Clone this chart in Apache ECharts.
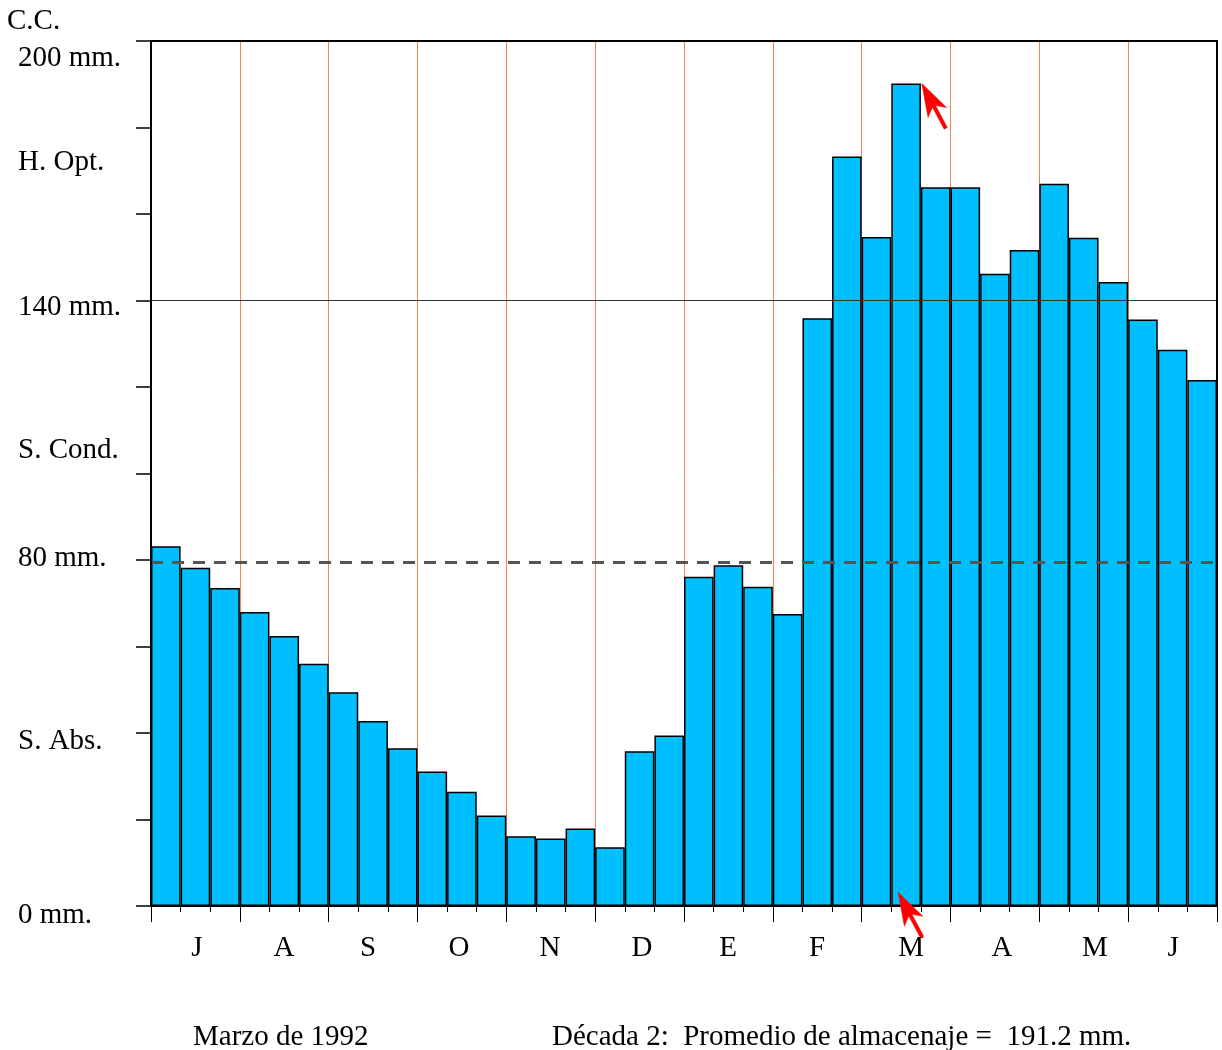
<!DOCTYPE html>
<html>
<head>
<meta charset="utf-8">
<script src="https://cdn.jsdelivr.net/npm/echarts@6/dist/echarts.min.js"></script>
<style>
html,body{margin:0;padding:0;background:#fff;}
#chart{width:1222px;height:1050px;}
</style>
</head>
<body>
<div id="chart"></div>
<script>
// ---- data ----
const monthLabels = ['J','A','S','O','N','D','E','F','M','A','M','J'];
const monthLabelPos = [1.55, 4.49, 7.33, 10.40, 13.47, 16.58, 19.49, 22.49, 25.67, 28.74, 31.88, 34.52]; // in decade units
const monthNames = ['Jul','Ago','Sep','Oct','Nov','Dic','Ene','Feb','Mar','Abr','May','Jun'];
const decadeLabels = [];
monthNames.forEach(function (m) { decadeLabels.push(m + ' 1', m + ' 2', m + ' 3'); });
const storageMm = [
  83.2, 78.2, 73.5, 68.0, 62.4, 56.0, 49.4, 42.8, 36.5, 31.1, 26.4, 20.9,
  16.1, 15.6, 17.9, 13.6, 35.8, 39.4, 76.1, 78.8, 73.8, 67.5, 135.9, 173.3,
  154.7, 190.2, 166.2, 166.2, 146.2, 151.7, 167.0, 154.5, 144.3, 135.6, 128.6, 121.6
];
const yLabelTexts = ['200 mm.', 'H. Opt.', '140 mm.', 'S. Cond.', '80 mm.', 'S. Abs.', '0 mm.'];
const yLabelValues = [196.4, 172.3, 138.9, 105.7, 80.9, 38.6, -1.6];
const optimumLine = 140;
const conditionLine = 79.4;
const arrowMarks = [[25, 190.2, 0.53], [25, 3.2, -0.27]]; // [decade index, value, offset in bar widths]
const captionLeft = 'Marzo de 1992';
const captionRight = 'Década 2:  Promedio de almacenaje =  191.2 mm.';

// ---- chart ----
const FONT = '"Liberation Serif", "Times New Roman", serif';
const FSIZE = 29;
const TEXT_DY = 2;
const chart = echarts.init(document.getElementById('chart'));

const arrowShape = [[0,0],[33,-10.5],[26,-1.8],[51,-1.8],[51,1.8],[26,1.8],[33,10.5]];
const arrowDir = (function(){ const dx = 24, dy = 45, l = Math.sqrt(dx*dx+dy*dy); return [dx/l, dy/l]; })();

chart.setOption({
  animation: false,
  backgroundColor: '#fff',
  grid: { left: 151, right: 5, top: 41, bottom: 144, show: false },
  xAxis: [
    {
      type: 'category', data: decadeLabels, position: 'bottom', boundaryGap: true,
      axisLine: { show: true, lineStyle: { color: '#000', width: 2 } },
      axisTick: { show: true, interval: 0, length: 6, lineStyle: { color: '#000', width: 1 } },
      axisLabel: { show: false }, splitLine: { show: false }, z: 5
    },
    {
      type: 'category', data: monthLabels, position: 'bottom', boundaryGap: true,
      axisLine: { show: false },
      axisTick: { show: true, interval: 0, length: 16, lineStyle: { color: '#000', width: 1 } },
      axisLabel: { show: false },
      splitLine: { show: true, interval: 0, showMinLine: false, showMaxLine: false, lineStyle: { color: '#F5844C', width: 1 } }
    },
    {
      type: 'category', data: monthLabels, position: 'top',
      axisLine: { show: true, lineStyle: { color: '#000', width: 2 } },
      axisTick: { show: false }, axisLabel: { show: false }, splitLine: { show: false }, z: 5
    },
    {
      type: 'value', min: 0, max: decadeLabels.length, position: 'bottom',
      axisLine: { show: false }, axisTick: { show: false }, splitLine: { show: false },
      axisLabel: {
        show: true, customValues: monthLabelPos, color: '#000', fontFamily: FONT, fontSize: FSIZE, margin: 28,
        formatter: function (v) {
          let best = 0;
          monthLabelPos.forEach(function (p, i) { if (Math.abs(p - v) < Math.abs(monthLabelPos[best] - v)) best = i; });
          return monthLabels[best];
        }
      }
    }
  ],
  yAxis: [
    {
      type: 'value', min: 0, max: 200, interval: 20, position: 'left',
      axisLine: { show: true, lineStyle: { color: '#000', width: 2 } },
      axisTick: { show: true, length: 15, lineStyle: { color: '#000', width: 1.5 } },
      axisLabel: { show: false }, splitLine: { show: false }, z: 5
    },
    {
      type: 'value', min: 0, max: 200, interval: 20, position: 'right',
      axisLine: { show: true, lineStyle: { color: '#000', width: 2 } },
      axisTick: { show: false }, axisLabel: { show: false }, splitLine: { show: false }, z: 5
    }
  ],
  series: [
    {
      type: 'bar', xAxisIndex: 0, yAxisIndex: 0, data: storageMm,
      barCategoryGap: '0%', barGap: '0%',
      itemStyle: { color: '#00BFFF', borderColor: '#000', borderWidth: 1.5 },
      markLine: {
        silent: true, symbol: ['none', 'none'], label: { show: false },
        data: [
          { yAxis: optimumLine, lineStyle: { color: '#333', width: 1, type: 'solid' } },
          { yAxis: conditionLine, lineStyle: { color: '#555', width: 3, type: [12, 9] } }
        ]
      },
      z: 2
    },
    {
      type: 'custom', xAxisIndex: 0, yAxisIndex: 0, data: arrowMarks, z: 10, silent: true,
      renderItem: function (params, api) {
        const p = api.coord([api.value(0), api.value(1)]);
        const w = api.size([1, 0])[0];
        const tip = [p[0] + api.value(2) * w, p[1]];
        const u = arrowDir, v = [-arrowDir[1], arrowDir[0]];
        const pts = arrowShape.map(function (q) {
          return [tip[0] + q[0] * u[0] + q[1] * v[0], tip[1] + q[0] * u[1] + q[1] * v[1]];
        });
        return { type: 'polygon', shape: { points: pts }, style: { fill: '#FF0000', stroke: '#FF0000', lineWidth: 0.5 } };
      }
    }
  ]
});

// y-axis texts positioned through the axis scale
const font = FSIZE + 'px ' + FONT;
const graphics = yLabelTexts.map(function (t, i) {
  const y = chart.convertToPixel({ yAxisIndex: 0 }, yLabelValues[i]) + TEXT_DY;
  return { type: 'text', x: 18, y: y, style: { text: t, font: font, fill: '#000', align: 'left', verticalAlign: 'middle' } };
});
graphics.push({ type: 'text', x: 7, y: 19 + TEXT_DY, style: { text: 'C.C.', font: font, fill: '#000', align: 'left', verticalAlign: 'middle' } });
graphics.push({ type: 'text', x: 193, y: 1035 + TEXT_DY, style: { text: captionLeft, font: font, fill: '#000', align: 'left', verticalAlign: 'middle' } });
graphics.push({ type: 'text', x: 552, y: 1035 + TEXT_DY, style: { text: captionRight, font: font, fill: '#000', align: 'left', verticalAlign: 'middle' } });
chart.setOption({ graphic: graphics });
</script>
</body>
</html>
